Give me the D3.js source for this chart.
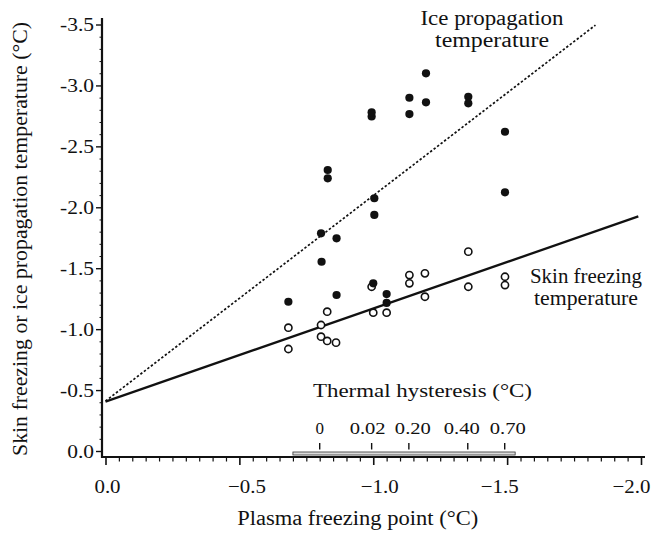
<!DOCTYPE html>
<html><head><meta charset="utf-8">
<script src="https://cdn.jsdelivr.net/npm/d3@7"></script>
<style>body{margin:0;background:#fff}svg{display:block}text{font-family:"Liberation Serif","Times New Roman",serif;fill:#111}</style>
</head><body><svg id="c" width="653" height="534"></svg>
<script>
// ---- data ----
const iceX = [-0.683,-0.805,-0.807,-0.830,-0.830,-0.863,-0.863,-0.994,-0.994,-1.004,-1.004,-1.000,-1.050,-1.050,-1.135,-1.135,-1.197,-1.197,-1.355,-1.355,-1.492,-1.492];
const iceY = [-1.225,-1.786,-1.553,-2.306,-2.238,-1.745,-1.280,-2.745,-2.780,-2.074,-1.937,-1.376,-1.288,-1.215,-2.899,-2.765,-3.099,-2.861,-2.907,-2.853,-2.620,-2.123];
const skinX = [-0.683,-0.683,-0.805,-0.828,-0.805,-0.828,-0.861,-0.994,-1.000,-1.050,-1.135,-1.135,-1.193,-1.193,-1.355,-1.355,-1.492,-1.492];
const skinY = [-1.012,-0.837,-1.034,-1.143,-0.938,-0.903,-0.889,-1.348,-1.135,-1.135,-1.444,-1.376,-1.458,-1.266,-1.636,-1.348,-1.430,-1.362];
const iceLineX = [0,-1.83], iceLineY = [-0.41,-3.495];
const skinLineX = [0,-1.99], skinLineY = [-0.405,-1.925];
const yTicks = [0,-0.5,-1.0,-1.5,-2.0,-2.5,-3.0,-3.5];
const yTickLabels = ["0.0","-0.5","-1.0","-1.5","-2.0","-2.5","-3.0","-3.5"];
const xTicks = [0,-0.5,-1.0,-1.5,-2.0];
const xTickLabels = ["0.0","\u22120.5","\u22121.0","\u22121.5","\u22122.0"];
const thPos = [-0.80,-0.994,-1.133,-1.353,-1.491];
const thLabels = ["0","0.02","0.20","0.40","0.70"];
const thRange = [-0.70,-1.53];

// ---- drawing ----
const svg = d3.select("#c");
svg.append("rect").attr("width",653).attr("height",534).attr("fill","#fff");
const x = d3.scaleLinear().domain([0,-2]).range([105.5,641]);
const y = d3.scaleLinear().domain([0,-3.5]).range([451,24.5]);
const axisX0 = 102, axisY0 = 457;
// small hand-placement nudges of labels as in the printed figure
const xLabelNudge = [1.5,7,6,-8,-10];
const thLabelNudge = [0,-4,4,-6,3];

function stretch(sel, f){ sel.each(function(){ const w=this.getComputedTextLength(); d3.select(this).attr("textLength",w*f).attr("lengthAdjust","spacingAndGlyphs"); }); }

// Y axis
const ya = svg.append("g").attr("transform",`translate(${axisX0},0)`)
  .call(d3.axisLeft(y).tickValues(yTicks).tickSize(6).tickFormat((d,i)=>yTickLabels[i]));
ya.select(".domain").remove();
ya.selectAll(".tick line").attr("stroke","#111").attr("stroke-width",1.4);
ya.selectAll(".tick text").attr("font-size",19).attr("font-family","Liberation Serif").attr("fill","#111").attr("x",-8).attr("dy","0.34em");
stretch(ya.selectAll(".tick text"),1.13);
const yMinor = d3.range(0,36).map(i=>-i/10).filter(v=>Math.abs(v*2-Math.round(v*2))>1e-6);
svg.append("g").attr("transform",`translate(${axisX0},0)`)
  .call(d3.axisLeft(y).tickValues(yMinor).tickSize(2.5).tickFormat(""))
  .call(g=>g.select(".domain").remove())
  .selectAll("line").attr("stroke","#111").attr("stroke-width",1);
svg.append("line").attr("x1",axisX0).attr("x2",axisX0).attr("y1",axisY0+1).attr("y2",18).attr("stroke","#111").attr("stroke-width",2.2);

// X axis
const xa = svg.append("g").attr("transform",`translate(0,${axisY0})`)
  .call(d3.axisBottom(x).tickValues(xTicks).tickSize(8).tickFormat((d,i)=>xTickLabels[i]));
xa.select(".domain").remove();
xa.selectAll(".tick line").attr("stroke","#111").attr("stroke-width",1.6);
xa.selectAll(".tick text").attr("font-size",19).attr("font-family","Liberation Serif").attr("fill","#111").attr("y",36).attr("dy",0)
  .attr("dx",(d,i)=>xLabelNudge[i]);
stretch(xa.selectAll(".tick text"),1.1);
const xMinor = d3.range(0,41).map(i=>-i*0.05).filter((v,i)=>i%10!==0);
svg.append("g").attr("transform",`translate(0,${axisY0})`)
  .call(d3.axisBottom(x).tickValues(xMinor).tickSize(4.5).tickFormat(""))
  .call(g=>g.select(".domain").remove())
  .selectAll("line").attr("stroke","#111").attr("stroke-width",1.2);
svg.append("line").attr("x1",axisX0-1).attr("x2",645).attr("y1",axisY0).attr("y2",axisY0).attr("stroke","#111").attr("stroke-width",2);

// Thermal hysteresis inset scale
svg.append("rect").attr("x",x(thRange[0])).attr("width",x(thRange[1])-x(thRange[0]))
  .attr("y",axisY0-5).attr("height",3).attr("fill","#dcdcdc").attr("stroke","#333").attr("stroke-width",0.8);
svg.selectAll(".tht").data(thPos).join("line").attr("class","tht")
  .attr("x1",d=>x(d)).attr("x2",d=>x(d)).attr("y1",443).attr("y2",449.5).attr("stroke","#111").attr("stroke-width",1.4);
svg.selectAll(".thl").data(thPos).join("text").attr("class","thl")
  .attr("x",(d,i)=>x(d)+thLabelNudge[i]).attr("y",434).attr("text-anchor","middle").attr("font-size",17)
  .text((d,i)=>thLabels[i])
  .each(function(d,i){ if(i>0) d3.select(this).attr("textLength",36).attr("lengthAdjust","spacingAndGlyphs"); });
svg.append("text").attr("x",422.5).attr("y",397).attr("text-anchor","middle").attr("font-size",19.5)
  .attr("textLength",219).attr("lengthAdjust","spacingAndGlyphs").text("Thermal hysteresis (\u00B0C)");

// Regression lines
const line = d3.line().x(d=>x(d[0])).y(d=>y(d[1]));
svg.append("path").datum(iceLineX.map((v,i)=>[v,iceLineY[i]])).attr("d",line)
  .attr("fill","none").attr("stroke","#111").attr("stroke-width",1.7).attr("stroke-dasharray","2.4,2");
svg.append("path").datum(skinLineX.map((v,i)=>[v,skinLineY[i]])).attr("d",line)
  .attr("fill","none").attr("stroke","#111").attr("stroke-width",2.3);

// Points
svg.selectAll(".skin").data(skinX.map((v,i)=>[v,skinY[i]])).join("circle").attr("class","skin")
  .attr("cx",d=>x(d[0])).attr("cy",d=>y(d[1])).attr("r",3.6)
  .attr("fill","#fff").attr("stroke","#111").attr("stroke-width",1.6);
svg.selectAll(".ice").data(iceX.map((v,i)=>[v,iceY[i]])).join("circle").attr("class","ice")
  .attr("cx",d=>x(d[0])).attr("cy",d=>y(d[1])).attr("r",4.1).attr("fill","#111");

// Line labels
function lbl(t,cx,by,w){ svg.append("text").attr("x",cx).attr("y",by).attr("text-anchor","middle").attr("font-size",20)
  .attr("textLength",w).attr("lengthAdjust","spacingAndGlyphs").text(t); }
lbl("Ice propagation",492,25,143);
lbl("temperature",492,47,114);
lbl("Skin freezing",586,283,112);
lbl("temperature",586,305,104);

// Axis titles
svg.append("text").attr("x",357.7).attr("y",525).attr("text-anchor","middle").attr("font-size",20)
  .attr("textLength",241).attr("lengthAdjust","spacingAndGlyphs").text("Plasma freezing point (\u00B0C)");
svg.append("text").attr("transform","translate(27,239) rotate(-90)").attr("text-anchor","middle").attr("font-size",20)
  .attr("textLength",434).attr("lengthAdjust","spacingAndGlyphs").text("Skin freezing or ice propagation temperature (\u00B0C)");
</script></body></html>
